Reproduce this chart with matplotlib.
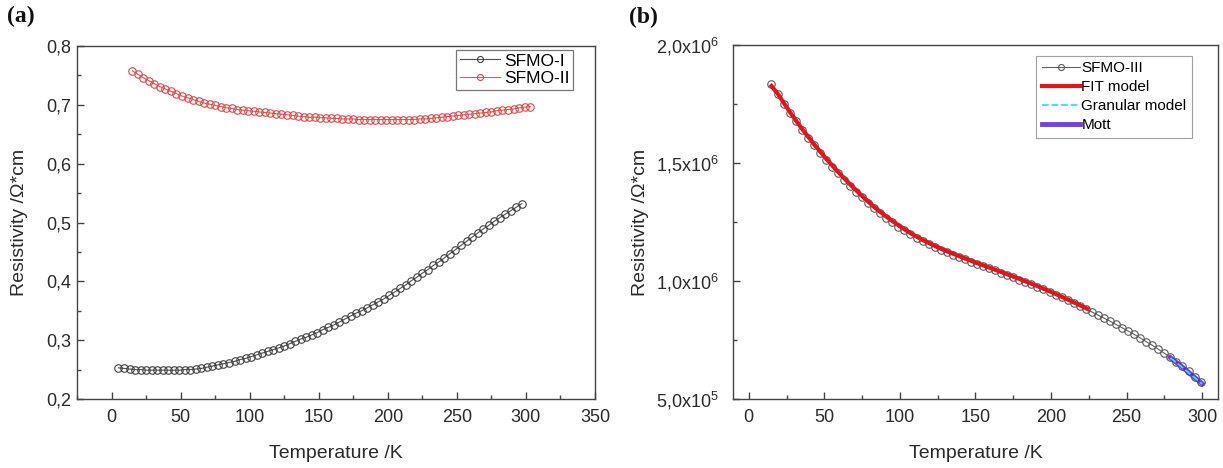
import matplotlib
matplotlib.use('Agg')
import matplotlib.pyplot as plt
from matplotlib.ticker import MultipleLocator, FuncFormatter

plt.rcParams['font.family'] = ['Liberation Sans', 'DejaVu Sans']
plt.rcParams['mathtext.fontset'] = 'custom'
plt.rcParams['mathtext.rm'] = 'Liberation Sans'
plt.rcParams['mathtext.it'] = 'Liberation Sans'

# ---- panel (a) data ----
t_sfmo1 = [5, 9, 13, 17, 21, 25, 29, 33, 37, 41, 45, 49, 53, 57, 61, 65, 69, 73, 77, 81,
           85, 89, 93, 97, 101, 105, 109, 113, 117, 121, 125, 129, 133, 137, 141, 145, 149,
           153, 157, 161, 165, 169, 173, 177, 181, 185, 189, 193, 197, 201, 205, 209, 213,
           217, 221, 225, 229, 233, 237, 241, 245, 249, 253, 257, 261, 265, 269, 273, 277,
           281, 285, 289, 293, 297]
rho_sfmo1 = [0.253, 0.252, 0.251, 0.250, 0.250, 0.249, 0.249, 0.249, 0.249, 0.249, 0.249,
             0.249, 0.250, 0.250, 0.251, 0.252, 0.254, 0.256, 0.258, 0.260, 0.262, 0.264,
             0.267, 0.269, 0.272, 0.275, 0.278, 0.281, 0.284, 0.287, 0.290, 0.294, 0.298,
             0.302, 0.305, 0.309, 0.313, 0.318, 0.322, 0.326, 0.331, 0.336, 0.341, 0.346,
             0.350, 0.355, 0.360, 0.365, 0.370, 0.376, 0.382, 0.388, 0.394, 0.401, 0.407,
             0.414, 0.420, 0.427, 0.433, 0.440, 0.447, 0.454, 0.461, 0.468, 0.475, 0.482,
             0.489, 0.495, 0.502, 0.508, 0.514, 0.520, 0.526, 0.532]

t_sfmo2 = [15, 19, 23, 27, 31, 35, 39, 43, 47, 51, 55, 59, 63, 67, 71, 75, 79, 83, 87, 91,
           95, 99, 103, 107, 111, 115, 119, 123, 127, 131, 135, 139, 143, 147, 151, 155, 159,
           163, 167, 171, 175, 179, 183, 187, 191, 195, 199, 203, 207, 211, 215, 219, 223,
           227, 231, 235, 239, 243, 247, 251, 255, 259, 263, 267, 271, 275, 279, 283, 287,
           291, 295, 299, 303]
rho_sfmo2 = [0.758, 0.752, 0.746, 0.741, 0.736, 0.731, 0.727, 0.723, 0.719, 0.715, 0.712,
             0.709, 0.706, 0.703, 0.701, 0.699, 0.697, 0.695, 0.694, 0.692, 0.691, 0.690,
             0.689, 0.688, 0.687, 0.686, 0.685, 0.684, 0.683, 0.682, 0.681, 0.680, 0.679,
             0.679, 0.678, 0.678, 0.677, 0.677, 0.676, 0.676, 0.676, 0.675, 0.675, 0.675,
             0.675, 0.675, 0.675, 0.675, 0.675, 0.675, 0.675, 0.675, 0.676, 0.676, 0.677,
             0.678, 0.679, 0.680, 0.681, 0.682, 0.683, 0.684, 0.685, 0.686, 0.687, 0.688,
             0.690, 0.691, 0.692, 0.693, 0.695, 0.696, 0.697]

# ---- panel (b) data (units of 1e6 Ohm*cm) ----
t_sfmo3 = [15, 19, 23, 27, 31, 35, 39, 43, 47, 51, 55, 59, 63, 67, 71, 75, 79, 83, 87, 91,
           95, 99, 103, 107, 111, 115, 119, 123, 127, 131, 135, 139, 143, 147, 151, 155, 159,
           163, 167, 171, 175, 179, 183, 187, 191, 195, 199, 203, 207, 211, 215, 219, 223,
           227, 231, 235, 239, 243, 247, 251, 255, 259, 263, 267, 271, 275, 279, 283, 287,
           291, 295, 299]
rho_sfmo3 = [1.836, 1.793, 1.752, 1.713, 1.676, 1.641, 1.608, 1.575, 1.544, 1.514, 1.485,
             1.458, 1.430, 1.404, 1.379, 1.355, 1.331, 1.309, 1.288, 1.268, 1.249, 1.231,
             1.215, 1.199, 1.184, 1.170, 1.157, 1.145, 1.133, 1.122, 1.112, 1.102, 1.092,
             1.082, 1.073, 1.063, 1.054, 1.045, 1.035, 1.026, 1.016, 1.006, 0.996, 0.986,
             0.975, 0.965, 0.954, 0.942, 0.931, 0.919, 0.907, 0.895, 0.882, 0.869, 0.856,
             0.843, 0.830, 0.816, 0.802, 0.788, 0.774, 0.759, 0.743, 0.728, 0.711, 0.694,
             0.677, 0.658, 0.638, 0.617, 0.595, 0.572]

t_fit = [15, 19, 23, 27, 31, 35, 43, 51, 59, 67, 75, 83, 91, 99, 107, 115, 127, 139, 151,
         163, 175, 187, 199, 211, 219, 224]
rho_fit = [1.826, 1.795, 1.756, 1.718, 1.682, 1.647, 1.581, 1.520, 1.463, 1.410, 1.360,
           1.314, 1.273, 1.236, 1.203, 1.174, 1.137, 1.106, 1.076, 1.048, 1.019, 0.989,
           0.957, 0.922, 0.898, 0.882]

t_mott = [279, 284, 289, 294, 300]
rho_mott = [0.675, 0.650, 0.624, 0.597, 0.565]
t_gran = [279, 284, 289, 294, 300]
rho_gran = [0.674, 0.649, 0.623, 0.596, 0.564]

TXT = '#2a2a2a'

fig = plt.figure(figsize=(12.23, 4.68), dpi=100)
ax1 = fig.add_axes([0.063, 0.1474, 0.4235, 0.7543])
ax2 = fig.add_axes([0.5993, 0.1474, 0.3966, 0.7564])


def style_axes(ax, ypad):
    for sp in ax.spines.values():
        sp.set_color('#444444')
        sp.set_linewidth(1.0)
    ax.tick_params(which='both', direction='in', top=False, right=False,
                   colors='#444444', labelcolor=TXT, labelsize=13, width=1.0)
    ax.tick_params(which='major', length=5)
    ax.tick_params(which='minor', length=3)
    ax.tick_params(axis='x', which='major', pad=7)
    ax.tick_params(axis='y', which='major', pad=ypad)


# panel (a)
ax1.plot(t_sfmo1, rho_sfmo1, '-o', color='#505050', lw=0.8, ms=5.4, mfc='none',
         mec='#404040', mew=0.8, label='SFMO-I')
ax1.plot(t_sfmo2, rho_sfmo2, '-o', color='#e05a5a', lw=0.8, ms=5.4, mfc='none',
         mec='#e04848', mew=0.8, label='SFMO-II')
ax1.set_xlim(-25, 350)
ax1.set_ylim(0.2, 0.8)
ax1.xaxis.set_major_locator(MultipleLocator(50))
ax1.xaxis.set_minor_locator(MultipleLocator(25))
ax1.yaxis.set_major_locator(MultipleLocator(0.1))
ax1.yaxis.set_minor_locator(MultipleLocator(0.05))
ax1.yaxis.set_major_formatter(FuncFormatter(lambda v, p: f'{v:.1f}'.replace('.', ',')))
style_axes(ax1, 4)
ax1.set_xlabel('Temperature /K', fontsize=14, color=TXT, labelpad=14)
ax1.set_ylabel('Resistivity /Ω*cm', fontsize=14, color=TXT, labelpad=13)
leg1 = ax1.legend(loc='upper right', bbox_to_anchor=(0.9575, 0.989), borderaxespad=0,
                  fontsize=12.5, frameon=True, fancybox=False, handlelength=2.3,
                  handletextpad=0.25, labelspacing=0.15, borderpad=0.2, markerscale=0.8)
leg1.get_frame().set_edgecolor('#555555')
leg1.get_frame().set_linewidth(0.9)

# panel (b)
ax2.plot(t_sfmo3, [v * 1e6 for v in rho_sfmo3], '-o', color='#606060', lw=0.8, ms=5.4,
         mfc='none', mec='#5a5a5a', mew=0.8, label='SFMO-III')
ax2.plot(t_fit, [v * 1e6 for v in rho_fit], '-', color='#e3141c', lw=3, label='FIT model')
ax2.plot(t_mott, [v * 1e6 for v in rho_mott], '-', color='#5b22d6', lw=3.5, alpha=0.85,
         label='Mott')
ax2.plot(t_gran, [v * 1e6 for v in rho_gran], '--', color='#35e0ea', lw=1.3,
         label='Granular model')
ax2.set_xlim(-10.5, 310.5)
ax2.set_ylim(5e5, 2e6)
ax2.xaxis.set_major_locator(MultipleLocator(50))
ax2.xaxis.set_minor_locator(MultipleLocator(25))
ax2.yaxis.set_major_locator(MultipleLocator(5e5))
ax2.yaxis.set_minor_locator(MultipleLocator(2.5e5))


def sci_fmt(v, p):
    exp = 0
    m = v
    while m >= 10:
        m /= 10
        exp += 1
    return f'{m:.1f}'.replace('.', ',') + 'x10$^{' + str(exp) + '}$'


ax2.yaxis.set_major_formatter(FuncFormatter(sci_fmt))
style_axes(ax2, 10)
ax2.set_xlabel('Temperature /K', fontsize=14, color=TXT, labelpad=14)
ax2.set_ylabel('Resistivity /Ω*cm', fontsize=14, color=TXT, labelpad=5)
h, l = ax2.get_legend_handles_labels()
order = [0, 1, 3, 2]
leg2 = ax2.legend([h[i] for i in order], [l[i] for i in order], loc='upper right',
                  bbox_to_anchor=(0.946, 0.969), borderaxespad=0, fontsize=11,
                  frameon=True, fancybox=False, handlelength=2.5, handletextpad=0.1,
                  labelspacing=0.33, borderpad=0.35, markerscale=0.8)
leg2.get_frame().set_edgecolor('#888888')
leg2.get_frame().set_linewidth(0.8)

fig.text(0.006, 0.965, '(a)', fontsize=17, fontweight='bold', color='#111111',
         family=['Liberation Serif', 'DejaVu Serif'], va='center')
fig.text(0.514, 0.962, '(b)', fontsize=17, fontweight='bold', color='#111111',
         family=['Liberation Serif', 'DejaVu Serif'], va='center')

fig.savefig('out.png', dpi=100)
